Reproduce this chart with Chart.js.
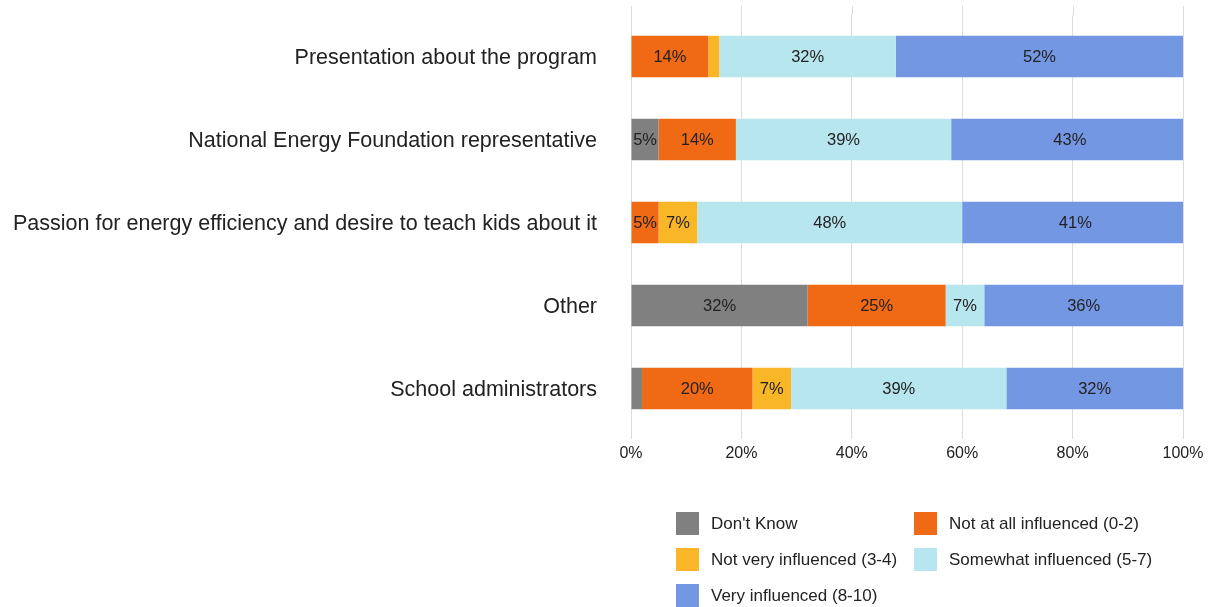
<!DOCTYPE html>
<html>
<head>
<meta charset="utf-8">
<script src="https://cdn.jsdelivr.net/npm/chart.js@4"></script>
<style>
  html, body { margin: 0; padding: 0; background: #fff; }
  #wrap { position: relative; width: 1214px; height: 607px; }
  #legend { position: absolute; left: 676px; top: 512px; width: 530px;
            font-family: "Liberation Sans", Arial, sans-serif; font-size: 17px; color: #222; }
  .item { position: absolute; height: 23px; line-height: 23px; white-space: nowrap; }
  .box { position: absolute; left: 0; top: 0; width: 23px; height: 23px; }
  .txt { position: absolute; left: 35px; top: 0; }
</style>
</head>
<body>
<div id="wrap">
  <canvas id="chart" width="1214" height="607"></canvas>
  <div id="legend"></div>
</div>
<script>
const categories = [
  'Presentation about the program',
  'National Energy Foundation representative',
  'Passion for energy efficiency and desire to teach kids about it',
  'Other',
  'School administrators'
];
const seriesNames = [
  "Don't Know",
  'Not at all influenced (0-2)',
  'Not very influenced (3-4)',
  'Somewhat influenced (5-7)',
  'Very influenced (8-10)'
];
const dontKnow    = [0, 5, 0, 32, 2];
const notAtAll    = [14, 14, 5, 25, 20];
const notVery     = [2, 0, 7, 0, 7];
const somewhat    = [32, 39, 48, 7, 39];
const veryInfl    = [52, 43, 41, 36, 32];
const xTicks = [0, 20, 40, 60, 80, 100];

const colors = ['#808080', '#f06a16', '#f9b627', '#b8e6ee', '#7497e4'];
const seriesData = [dontKnow, notAtAll, notVery, somewhat, veryInfl];

const font = "'Liberation Sans', Arial, sans-serif";

// values written inside the segments
const segmentLabels = {
  id: 'segmentLabels',
  afterDatasetsDraw(chart) {
    const ctx = chart.ctx;
    ctx.save();
    ctx.font = '16.5px ' + font;
    ctx.fillStyle = '#222';
    ctx.textAlign = 'center';
    ctx.textBaseline = 'middle';
    chart.data.datasets.forEach((ds, i) => {
      chart.getDatasetMeta(i).data.forEach((bar, j) => {
        const v = ds.data[j];
        if (v < 3) return;
        const p = bar.getProps(['x', 'y', 'base'], true);
        ctx.fillText(v + '%', (p.x + p.base) / 2, p.y + 1);
      });
    });
    ctx.restore();
  }
};

// grid lines run a little above the plot area
const gridTop = {
  id: 'gridTop',
  beforeDatasetsDraw(chart) {
    const ctx = chart.ctx, x = chart.scales.x, top = chart.chartArea.top;
    ctx.save();
    ctx.strokeStyle = '#dcdcdc';
    ctx.lineWidth = 1;
    xTicks.forEach(t => {
      const px = Math.round(x.getPixelForValue(t)) + 0.5;
      ctx.beginPath();
      ctx.moveTo(px, top - 9);
      ctx.lineTo(px, top);
      ctx.stroke();
    });
    ctx.restore();
  }
};

const chart = new Chart(document.getElementById('chart'), {
  type: 'bar',
  data: {
    labels: categories,
    datasets: seriesNames.map((name, i) => ({
      label: name,
      data: seriesData[i],
      backgroundColor: colors[i],
      borderWidth: 0,
      categoryPercentage: 1,
      barPercentage: 0.5
    }))
  },
  options: {
    indexAxis: 'y',
    responsive: false,
    animation: false,
    layout: { padding: { top: 15, right: 31, bottom: 0, left: 0 } },
    plugins: {
      legend: { display: false },
      tooltip: { enabled: false }
    },
    scales: {
      x: {
        stacked: true,
        min: 0,
        max: 100,
        afterBuildTicks(scale) { scale.ticks = xTicks.map(v => ({ value: v })); },
        afterFit(scale) {
          scale.height = 177;
          scale.paddingLeft = 0;
          scale.paddingRight = 0;
        },
        border: { display: false },
        grid: { color: '#dcdcdc', tickLength: 9, drawTicks: true },
        ticks: {
          padding: 5,
          color: '#222',
          font: { family: font, size: 16 },
          maxRotation: 0,
          callback: v => v + '%'
        }
      },
      y: {
        stacked: true,
        afterFit(scale) {
          scale.width = 631;
          scale.paddingTop = 0;
          scale.paddingBottom = 0;
        },
        border: { display: false },
        grid: { display: false, drawTicks: false },
        ticks: {
          padding: 34,
          labelOffset: 2,
          color: '#222',
          font: { family: font, size: 21.5 }
        }
      }
    }
  },
  plugins: [segmentLabels, gridTop]
});

// legend in two columns, built from the chart's datasets
const legend = document.getElementById('legend');
chart.data.datasets.forEach((ds, i) => {
  const item = document.createElement('div');
  item.className = 'item';
  item.style.left = (i % 2 ? 238 : 0) + 'px';
  item.style.top = (Math.floor(i / 2) * 36) + 'px';
  item.innerHTML = '<span class="box" style="background:' + ds.backgroundColor +
    '"></span><span class="txt"></span>';
  item.querySelector('.txt').textContent = ds.label;
  legend.appendChild(item);
});
</script>
</body>
</html>
